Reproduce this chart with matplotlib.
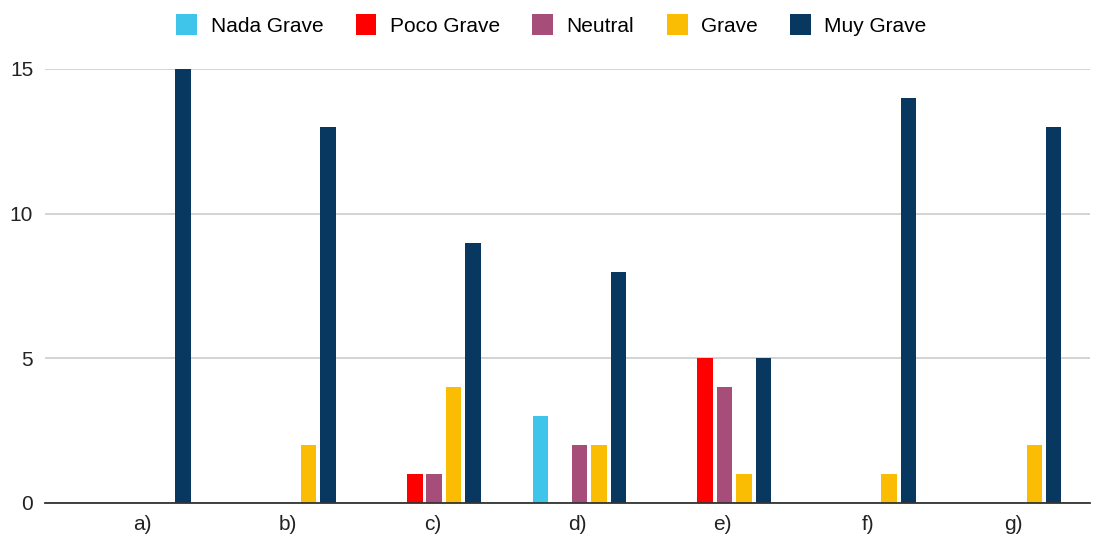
import matplotlib
matplotlib.use("Agg")
import matplotlib.pyplot as plt
import numpy as np
from matplotlib.patches import Patch

plt.rcParams['font.family'] = ['Liberation Sans', 'DejaVu Sans']

categories = ["a)", "b)", "c)", "d)", "e)", "f)", "g)"]
series_names = ["Nada Grave", "Poco Grave", "Neutral", "Grave", "Muy Grave"]
nada_grave = [0, 0, 0, 3, 0, 0, 0]
poco_grave = [0, 0, 1, 0, 5, 0, 0]
neutral = [0, 0, 1, 2, 4, 0, 0]
grave = [0, 2, 4, 2, 1, 1, 2]
muy_grave = [15, 13, 9, 8, 5, 14, 13]
colors = ["#3ec5e9", "#ff0000", "#a64d79", "#fbbc04", "#08375f"]

series = [nada_grave, poco_grave, neutral, grave, muy_grave]

fig = plt.figure(figsize=(11.03, 5.38), dpi=100)
ax = fig.add_axes([45 / 1103, 35 / 538, 1045 / 1103, 434 / 538])

x = np.arange(len(categories))
step = 0.134
width = 0.107
for i, (vals, col) in enumerate(zip(series, colors)):
    offs = (i - 2) * step
    ax.bar(x + offs + 0.012, vals, width=width, color=col, zorder=3, clip_on=False)

ax.set_xlim(-0.67, 6.53)
ax.set_ylim(0, 15)
ax.set_yticks([0, 5, 10, 15])
ax.yaxis.grid(True, color="#cccccc", linewidth=1.2, zorder=0)
ax.set_axisbelow(True)
for s in ["top", "right", "left"]:
    ax.spines[s].set_visible(False)
ax.spines["bottom"].set_color("#333333")
ax.spines["bottom"].set_linewidth(1.3)
ax.spines["bottom"].set_zorder(4)
ax.set_xticks(x)
ax.set_xticklabels(categories)
ax.tick_params(axis="both", length=0, labelsize=15, colors="#222222")
ax.tick_params(axis="y", pad=8.5)
ax.tick_params(axis="x", pad=9)

handles = [Patch(facecolor=c, label=n) for c, n in zip(colors, series_names)]
fig.legend(handles=handles, loc="center", bbox_to_anchor=(0.5, 1 - 25 / 538),
           ncol=5, frameon=False, fontsize=15, handlelength=1.0,
           handleheight=1.15, handletextpad=0.65, columnspacing=1.55)

fig.savefig("out.png", dpi=100)
